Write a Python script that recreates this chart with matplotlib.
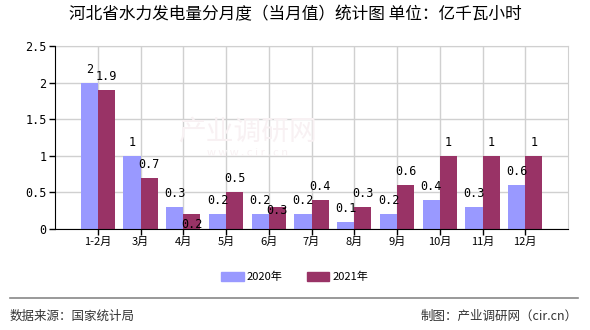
import numpy as np
import matplotlib as mpl
mpl.use('Agg')
import matplotlib.pyplot as plt
from matplotlib.patches import Patch

plt.rcParams['font.family'] = ['Noto Sans CJK SC', 'DejaVu Sans']

months = ['1-2月', '3月', '4月', '5月', '6月', '7月', '8月', '9月', '10月', '11月', '12月']
v2020 = [2, 1, 0.3, 0.2, 0.2, 0.2, 0.1, 0.2, 0.4, 0.3, 0.6]
v2021 = [1.9, 0.7, 0.2, 0.5, 0.3, 0.4, 0.3, 0.6, 1, 1, 1]
series_names = ['2020年', '2021年']
yticks = [0, 0.5, 1, 1.5, 2, 2.5]

c2020 = '#9999ff'
c2021 = '#993366'

fig = plt.figure(figsize=(5.9, 3.3), dpi=100)
ax = fig.add_axes([55/590, 1-229/330, 513/590, 183/330])

pos = np.arange(1, len(months)+1)
w = 0.4
ax.bar(pos-w/2, v2020, width=w, color=c2020, zorder=3)
ax.bar(pos+w/2, v2021, width=w, color=c2021, zorder=3)

mono = 'DejaVu Sans Mono'
# labels that got pushed inside the bar in the original
inside = {2, 4}
for i, (a, b) in enumerate(zip(v2020, v2021)):
    ax.annotate('%g' % a, (pos[i]-w/2, a), xytext=(0, 5), textcoords='offset points',
                ha='center', va='bottom', fontsize=8.5, family=mono, zorder=4)
    if i in inside:
        ax.annotate('%g' % b, (pos[i]+w/2, b), xytext=(0, -12 if i == 2 else -7),
                    textcoords='offset points', ha='center', va='bottom',
                    fontsize=8.5, family=mono, zorder=4)
    else:
        ax.annotate('%g' % b, (pos[i]+w/2, b), xytext=(0, 5), textcoords='offset points',
                    ha='center', va='bottom', fontsize=8.5, family=mono, zorder=4)

ax.set_xlim(0, 12)
ax.set_ylim(0, 2.5)
ax.set_yticks(yticks)
ax.set_yticklabels(['%g' % t for t in yticks], family=mono, fontsize=8.5)
ax.set_xticks(pos)
ax.set_xticklabels(months, fontsize=8)
ax.grid(True, color='#d0d0d0', linewidth=1, zorder=0)
for s in ['top', 'right']:
    ax.spines[s].set_color('#d0d0d0')
for s in ['left', 'bottom']:
    ax.spines[s].set_color('black')
    ax.spines[s].set_zorder(5)
ax.tick_params(axis='both', length=4, width=1, color='black', pad=2)

# watermark
fig.text(0.42, 0.60, '产业调研网', fontsize=20, color='#f8f1f3', ha='center', va='center', zorder=0)
fig.text(0.42, 0.535, 'w w w . c i r . c n', fontsize=8, color='#f8f1f3', ha='center', va='center', zorder=0)

fig.suptitle('河北省水力发电量分月度（当月值）统计图 单位：亿千瓦小时', x=0.5, y=0.98,
             fontsize=12, va='top')

handles = [Patch(color=c2020), Patch(color=c2021)]
fig.legend(handles, series_names, loc='center', bbox_to_anchor=(0.5, 1-277/330), ncol=2,
           frameon=False, fontsize=8, handlelength=2.0, handleheight=0.9,
           columnspacing=2.2, handletextpad=0.3)

fig.add_artist(plt.Line2D([10/590, 578/590], [1-298/330, 1-298/330], color='#888888', linewidth=1.2))
fig.text(10/590, 1-316/330, '数据来源：国家统计局', fontsize=9, color='#333333', va='center', ha='left')
fig.text(578/590, 1-316/330, '制图：产业调研网（cir.cn）', fontsize=9, color='#333333', va='center', ha='right')

plt.savefig('out.png', dpi=100)
